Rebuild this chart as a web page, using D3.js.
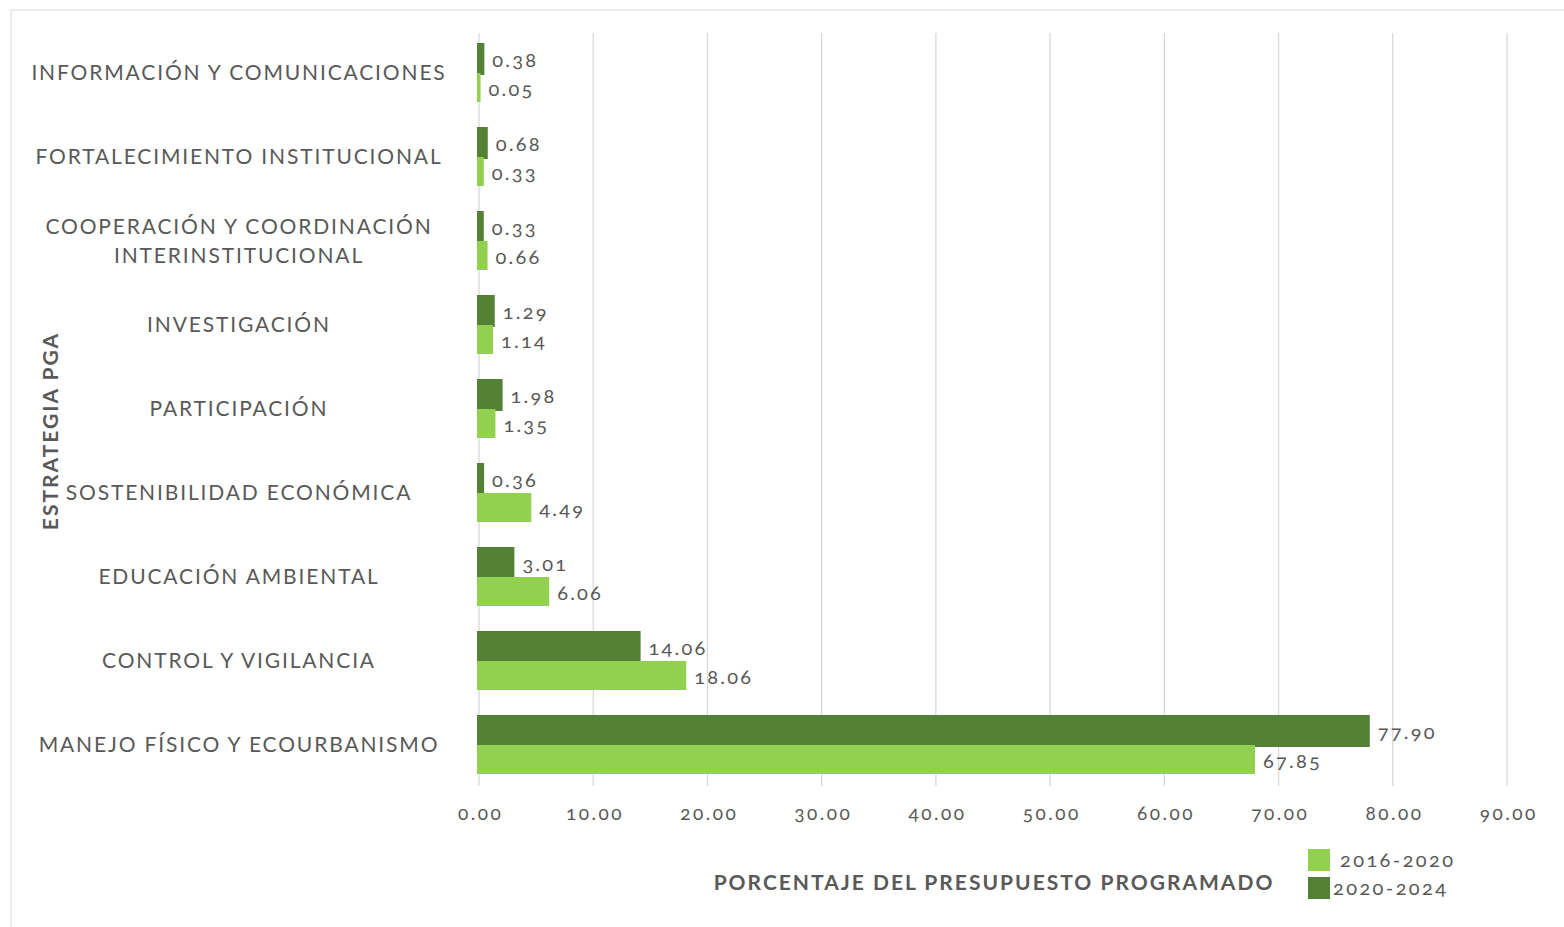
<!DOCTYPE html>
<html><head><meta charset="utf-8">
<script src="https://cdn.jsdelivr.net/npm/d3@7"></script>
<style>
body{margin:0;background:#fff;}
svg{display:block;font-family:Lato,"Open Sans",sans-serif;}
.num{font-variant-numeric:oldstyle-nums;}
</style></head><body>
<svg id="c" width="1564" height="927"></svg>
<script>
const categories = [
  ["INFORMACIÓN Y COMUNICACIONES"],
  ["FORTALECIMIENTO INSTITUCIONAL"],
  ["COOPERACIÓN Y COORDINACIÓN","INTERINSTITUCIONAL"],
  ["INVESTIGACIÓN"],
  ["PARTICIPACIÓN"],
  ["SOSTENIBILIDAD ECONÓMICA"],
  ["EDUCACIÓN AMBIENTAL"],
  ["CONTROL Y VIGILANCIA"],
  ["MANEJO FÍSICO Y ECOURBANISMO"]
];
const series2016 = [0.05, 0.33, 0.66, 1.14, 1.35, 4.49, 6.06, 18.06, 67.85];
const series2020 = [0.38, 0.68, 0.33, 1.29, 1.98, 0.36, 3.01, 14.06, 77.90];
const xTicks = [0,10,20,30,40,50,60,70,80,90];
const seriesNames = ["2016-2020","2020-2024"];

const colLight = "#92d050", colDark = "#548235", txt = "#595959";
const svg = d3.select("#c");
svg.append("rect").attr("x",11).attr("y",10).attr("width",1570).attr("height",940)
  .attr("fill","none").attr("stroke","#e6e6e6").attr("stroke-width",1.5);

const keys = categories.map(d=>d.join(" "));
const x = d3.scaleLinear().domain([0,90]).range([479,1507]);
const y = d3.scaleBand().domain(keys).range([31,787]);

// gridlines
svg.append("g").selectAll("line").data(xTicks).join("line")
  .attr("x1",d=>x(d)).attr("x2",d=>x(d)).attr("y1",33).attr("y2",786)
  .attr("stroke","#d9d9d9").attr("stroke-width",1.3);

// x axis labels
const xa = svg.append("g").attr("transform","translate(1.2,813)")
  .call(d3.axisBottom(x).tickValues(xTicks).tickFormat(d3.format(".2f")).tickSize(0).tickPadding(0));
xa.select(".domain").remove();
xa.selectAll("text").attr("class","num").attr("fill",txt).attr("font-size",19)
  .attr("font-family","Lato, sans-serif").attr("dy","0.35em").attr("letter-spacing","2.5px");

const c = k => y(k) + y.bandwidth()/2;
const bx = 477, bw = d => x(d) - x(0) + 3;

// bars
svg.append("g").selectAll("rect").data(series2020).join("rect")
  .attr("x",bx).attr("y",(d,i)=>c(keys[i])-30).attr("height",32)
  .attr("width",bw).attr("fill",colDark);
svg.append("g").selectAll("rect").data(series2016).join("rect")
  .attr("x",bx).attr("y",(d,i)=>c(keys[i])).attr("height",29)
  .attr("width",bw).attr("fill",colLight);

// data labels
const lab = (data, dyc) => svg.append("g").selectAll("text").data(data).join("text")
  .attr("class","num").attr("x",d=>bx+bw(d)+8).attr("y",(d,i)=>c(keys[i])+dyc)
  .attr("dy","0.35em").attr("font-size",20).attr("fill",txt).attr("letter-spacing","2.2px")
  .text(d=>d3.format(".2f")(d));
lab(series2020, -13);
lab(series2016, 16);

// category labels
const cl = svg.append("g").selectAll("text").data(categories).join("text")
  .attr("x",239).attr("text-anchor","middle").attr("font-size",21).attr("fill",txt)
  .attr("letter-spacing","1.85px")
  .attr("y",(d,i)=>c(keys[i]));
cl.each(function(d){
  const t = d3.select(this);
  const n = d.length;
  d.forEach((s,j)=>{
    t.append("tspan").attr("x",239).attr("dy", j===0 ? ((0.35 - (n-1)*0.69)+"em") : "1.38em").text(s);
  });
});

// axis titles
svg.append("text").attr("x",994).attr("y",883).attr("dy","0.35em").attr("text-anchor","middle")
  .attr("font-size",21).attr("font-weight","bold").attr("fill",txt).attr("letter-spacing","2px")
  .text("PORCENTAJE DEL PRESUPUESTO PROGRAMADO");
svg.append("text").attr("transform","translate(51,431) rotate(-90)").attr("dy","0.35em")
  .attr("text-anchor","middle").attr("font-size",21).attr("font-weight","bold").attr("fill",txt)
  .attr("letter-spacing","2px").text("ESTRATEGIA PGA");

// legend
const lg = svg.append("g");
const legItems = [{n:seriesNames[0],c:colLight,y:849,tx:1340},{n:seriesNames[1],c:colDark,y:877,tx:1333}];
lg.selectAll("rect").data(legItems).join("rect").attr("x",1308).attr("y",d=>d.y)
  .attr("width",22).attr("height",22).attr("fill",d=>d.c);
lg.selectAll("text").data(legItems).join("text").attr("class","num").attr("x",d=>d.tx).attr("y",d=>d.y+11)
  .attr("dy","0.35em").attr("font-size",20).attr("fill",txt).attr("letter-spacing","2.4px").text(d=>d.n);
</script></body></html>
